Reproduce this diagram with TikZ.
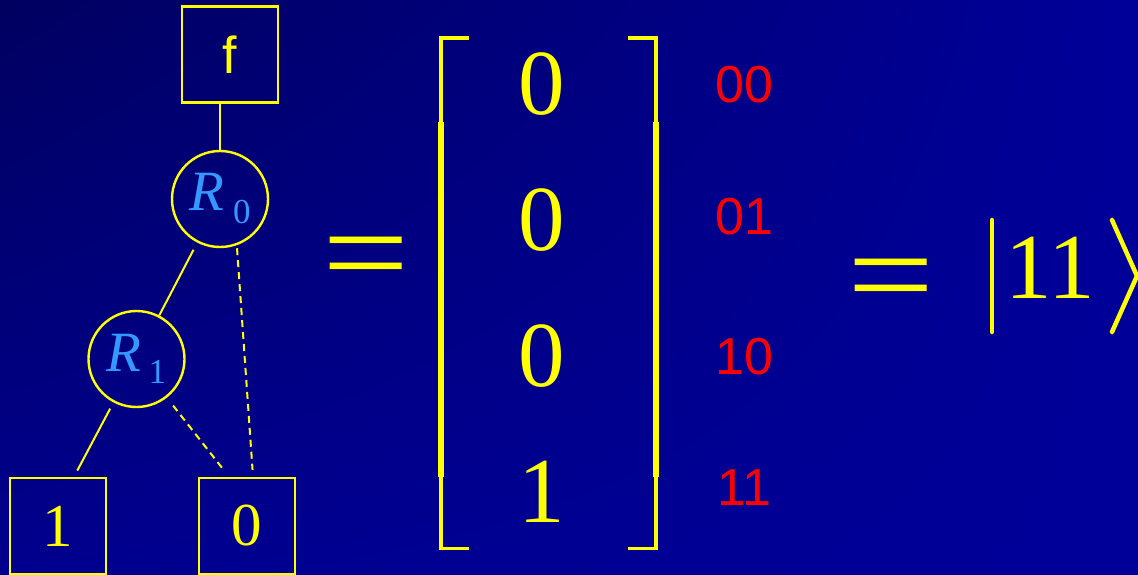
\documentclass[tikz,border=0pt]{standalone}
\usepackage{fontspec}
\setmainfont{Liberation Serif}
\setsansfont{Liberation Sans}
\usetikzlibrary{shadings}
\definecolor{bgdark}{HTML}{000060}
\definecolor{bgmid}{HTML}{00008E}
\definecolor{bgblue}{HTML}{000099}
\definecolor{ylw}{HTML}{FFFF00}
\definecolor{regblue}{HTML}{3399FF}
\definecolor{idxred}{HTML}{FF0000}

\begin{document}
\begin{tikzpicture}[x=1pt, y=-1pt,
  termbox/.style={draw=ylw, line width=2.4pt, minimum size=96pt, inner sep=0pt, text=ylw},
  regnode/.style={draw=ylw, circle, line width=2.4pt, minimum size=96pt, inner sep=0pt, text=regblue},
  conn/.style={ylw, line width=2pt},
  dashconn/.style={conn, dash pattern=on 7pt off 5pt},
  entry/.style={text=ylw, inner sep=0pt, font=\fontsize{93}{100}\selectfont},
  idx/.style={text=idxred, inner sep=0pt, font=\sffamily\fontsize{52}{56}\selectfont},
  eqsign/.style={text=ylw, inner sep=0pt, xscale=1.19, font=\fontsize{130}{132}\selectfont},
  delim/.style={ylw, line width=4.5pt, line cap=round, line join=round}]

% Background
\useasboundingbox (0,0) rectangle (1138,574);
\shade[upper left=bgdark, upper right=bgblue, lower left=bgmid, lower right=bgblue]
  (0,0) rectangle (1138,574);

% === Decision diagram ===
\node[termbox, font=\sffamily\fontsize{52}{56}\selectfont] (f) at (230,54.5) {f};
\node[regnode] (R0) at (220,199)
  {{\fontsize{57}{60}\selectfont\itshape R}\hspace{9pt}\raisebox{-13pt}{\fontsize{35}{38}\selectfont 0}};
\node[regnode] (R1) at (136.5,359)
  {{\fontsize{57}{60}\selectfont\itshape R}\hspace{7pt}\raisebox{-12pt}{\fontsize{35}{38}\selectfont 1}};
\node[termbox, font=\fontsize{61}{64}\selectfont] (B1) at (58,526) {1};
\node[termbox, font=\fontsize{61}{64}\selectfont] (B0) at (247,526) {0};

% edges: solid = high branch, dashed = low branch
\draw[conn] (R0.north |- f.south) -- (R0.north);
\draw[conn, shorten <=8pt] (R0) -- (R1);
\draw[dashconn, shorten <=3pt, shorten >=7pt] (R0.-70) -- (B0.83);
\draw[conn, shorten <=7pt, shorten >=7pt] (R1) -- (B1.72);
\draw[dashconn, shorten <=10pt, shorten >=11pt] (R1) -- (B0.110);

% first equals sign
\node[eqsign] (eq1) at (366,267) {=};

% === Column vector ===
\draw[ylw, line width=3.5pt] (469,38) -| (441,124);
\draw[ylw, line width=5.5pt] (441,122) -- (441,477);
\draw[ylw, line width=3.5pt] (441,475) |- (469,548.5);
\draw[ylw, line width=3.5pt] (628,38) -| (656,124);
\draw[ylw, line width=5.5pt] (656,122) -- (656,477);
\draw[ylw, line width=3.5pt] (656,475) |- (628,548.5);

\foreach \v [count=\i] in {0,0,0,1}
  \node[entry] (m\i) at (542,{84+136*(\i-1)}) {\v};

% basis labels
\node[idx] (l00) at (744,84.5) {00};
\node[idx] (l01) at (744,216.5) {01};
\node[idx] (l10) at (744,356.5) {10};
\node[idx] (l11) at (744,488) {11};

% === Ket ===
\node[eqsign] (eq2) at (891.5,289) {=};
\node[entry] (ket) at (1050,268) {11};
\draw[delim] (992,220) -- (992,332);
\draw[delim] (1112,220) -- (1137,276) -- (1112,332);

\end{tikzpicture}
\end{document}
